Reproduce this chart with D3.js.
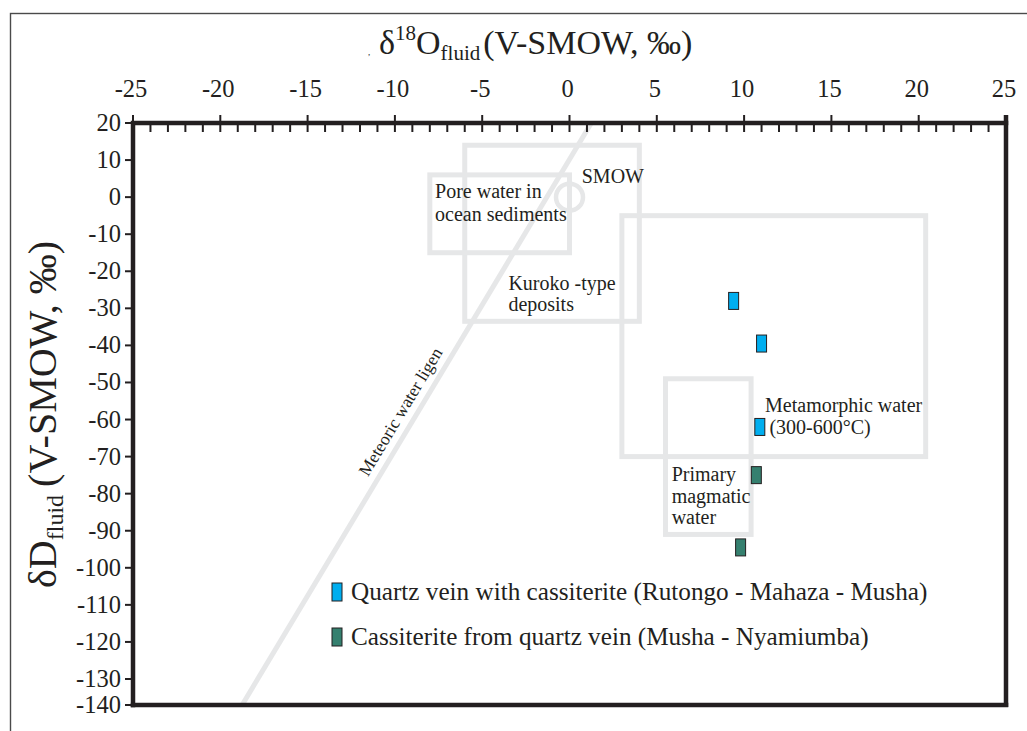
<!DOCTYPE html>
<html>
<head>
<meta charset="utf-8">
<script src="https://cdn.jsdelivr.net/npm/d3@7"></script>
<style>
  html, body { margin: 0; padding: 0; background: #fff; }
  svg { display: block; }
  text { font-family: "Liberation Serif", "Times New Roman", "DejaVu Serif", serif; fill: #231f20; }
</style>
</head>
<body>
<svg id="chart" width="1027" height="731"></svg>
<script>
// ---------------- data ----------------
const xTickValues = [-25, -20, -15, -10, -5, 0, 5, 10, 15, 20, 25];
const xTickLabels = ["-25", "-20", "-15", "-10", "-5", "0", "5", "10", "15", "20", "25"];
const yTickValues = [20, 10, 0, -10, -20, -30, -40, -50, -60, -70, -80, -90, -100, -110, -120, -130, -140];
const yTickLabels = ["20", "10", "0", "-10", "-20", "-30", "-40", "-50", "-60", "-70", "-80", "-90", "-100", "-110", "-120", "-130", "-140"];

// Quartz vein with cassiterite (Rutongo - Mahaza - Musha)
const quartzO = [9.4, 11.0, 10.9];
const quartzD = [-28, -39.5, -62];
// Cassiterite from quartz vein (Musha - Nyamiumba)
const cassO = [10.7, 9.8];
const cassD = [-75, -94.5];

const seriesNames = [
  "Quartz vein with cassiterite (Rutongo - Mahaza - Musha)",
  "Cassiterite from quartz vein (Musha - Nyamiumba)"
];
const seriesColors = ["#00aeef", "#35806f"];

// reference fields (δ18O min, max; δD min, max)
const fieldNames = ["Kuroko", "Pore water", "Metamorphic", "Primary magmatic"];
const fieldO0 = [-6, -8, 3, 5.5];
const fieldO1 = [4, 0, 20.4, 10.4];
const fieldD0 = [-33.5, -15, -70, -91];
const fieldD1 = [14, 6, -5, -49];

// SMOW point
const smowO = 0, smowD = 0;

// Meteoric water line  δD = 8 δ18O + 10
const mwlO = [-18.75, 1.25];
const mwlD = [-140, 20];

// annotation labels (text, δ18O, δD of baseline start)
const noteText = ["Pore water in", "ocean sediments", "SMOW", "Kuroko -type", "deposits",
                  "Metamorphic water", "(300-600°C)", "Primary", "magmatic", "water"];
const noteO = [-7.7, -7.7, 0.7, -3.5, -3.5, 11.2, 11.45, 5.85, 5.85, 5.85];
const noteD = [-0.3, -6.4, 3.8, -25.1, -30.6, -57.9, -63.8, -76.6, -82.4, -88.3];

// ---------------- drawing ----------------
const svg = d3.select("#chart");
svg.append("rect").attr("width", 1027).attr("height", 731).attr("fill", "#fff");

// outer frame
svg.append("rect").attr("x", 10.5).attr("y", 13.5).attr("width", 1100).attr("height", 800)
  .attr("fill", "none").attr("stroke", "#4a4a4a").attr("stroke-width", 1.4);

const x = d3.scaleLinear().domain([-25, 25]).range([133, 1006]);
const y = d3.scaleLinear().domain([20, -130, -140]).range([123, 679, 705]);

const gray = "#e6e7e8";
const ink = "#231f20";

// fields
const fieldG = svg.append("g");
fieldG.selectAll("rect").data(fieldNames).join("rect")
  .attr("x", (d, i) => x(fieldO0[i]))
  .attr("y", (d, i) => y(fieldD1[i]))
  .attr("width", (d, i) => x(fieldO1[i]) - x(fieldO0[i]))
  .attr("height", (d, i) => y(fieldD0[i]) - y(fieldD1[i]))
  .attr("fill", "none").attr("stroke", gray).attr("stroke-width", 5);

// meteoric water line
const mwlPts = mwlO.map((o, i) => [x(o), y(mwlD[i])]);
svg.append("path").attr("d", d3.line()(mwlPts))
  .attr("stroke", gray).attr("stroke-width", 5).attr("fill", "none");

// SMOW circle
svg.append("circle").attr("cx", x(smowO)).attr("cy", y(smowD)).attr("r", 13.5)
  .attr("fill", "none").attr("stroke", gray).attr("stroke-width", 4.5);

// meteoric label
{
  const dO = -8.8; // δ18O where label centred
  const p = [x(dO), y(8 * dO + 10)];
  const dx = mwlPts[1][0] - mwlPts[0][0], dy = mwlPts[1][1] - mwlPts[0][1];
  const ang = Math.atan2(dy, dx) * 180 / Math.PI;
  const len = Math.hypot(dx, dy);
  const nx = dy / len, ny = -dx / len; // normal pointing up-left
  const off = 12;
  svg.append("text")
    .attr("transform", `translate(${p[0] + nx * off},${p[1] + ny * off}) rotate(${ang})`)
    .attr("text-anchor", "middle").attr("font-size", 17.5)
    .text("Meteoric water ligen");
}

// annotations
svg.append("g").selectAll("text").data(noteText).join("text")
  .attr("x", (d, i) => x(noteO[i])).attr("y", (d, i) => y(noteD[i]))
  .attr("font-size", 20).text(d => d);

// data markers
const mw = 10, mh = 17;
function drawSeries(O, D, color) {
  svg.append("g").selectAll("rect").data(O).join("rect")
    .attr("x", (d, i) => x(d) - mw / 2).attr("y", (d, i) => y(D[i]) - mh / 2)
    .attr("width", mw).attr("height", mh)
    .attr("fill", color).attr("stroke", ink).attr("stroke-width", 1);
}
drawSeries(quartzO, quartzD, seriesColors[0]);
drawSeries(cassO, cassD, seriesColors[1]);

// axes frame
const axG = svg.append("g").attr("stroke", ink).attr("stroke-linecap", "square");
const minor = d3.range(-25, 26, 1).filter(v => xTickValues.indexOf(v) < 0);
axG.selectAll("line.minor").data(minor).join("line").attr("class", "minor")
  .attr("x1", d => x(d)).attr("x2", d => x(d)).attr("y1", y(20)).attr("y2", y(20) + 9)
  .attr("stroke-width", 2).attr("stroke-linecap", "butt");
axG.selectAll("line.major").data(xTickValues).join("line").attr("class", "major")
  .attr("x1", d => x(d)).attr("x2", d => x(d)).attr("y1", y(20) - 8).attr("y2", y(20) + 9)
  .attr("stroke-width", 2).attr("stroke-linecap", "butt");
axG.selectAll("line.yt").data(yTickValues).join("line").attr("class", "yt")
  .attr("x1", x(-25) - 8).attr("x2", x(-25)).attr("y1", d => y(d)).attr("y2", d => y(d))
  .attr("stroke-width", 2).attr("stroke-linecap", "butt");
axG.append("path")
  .attr("d", `M${x(-25)},${y(-140)} L${x(-25)},${y(20)} L${x(25)},${y(20)}`)
  .attr("fill", "none").attr("stroke-width", 4.5);
axG.append("path")
  .attr("d", `M${x(-25)},${y(-140)} L${x(25)},${y(-140)}`)
  .attr("fill", "none").attr("stroke-width", 4.5);
axG.append("line").attr("x1", x(25)).attr("x2", x(25)).attr("y1", y(20) - 8).attr("y2", y(-140) + 2)
  .attr("stroke-width", 4.5).attr("stroke-linecap", "butt");

// tick labels
svg.append("g").selectAll("text").data(xTickValues).join("text")
  .attr("x", d => x(d) - 2).attr("y", 97).attr("text-anchor", "middle")
  .attr("font-size", 24.5).text((d, i) => xTickLabels[i]);
svg.append("g").selectAll("text").data(yTickValues).join("text")
  .attr("x", x(-25) - 12).attr("y", d => y(d) + 8).attr("text-anchor", "end")
  .attr("font-size", 24.5).text((d, i) => yTickLabels[i]);

// x title
{
  const t = svg.append("text").attr("x", 379).attr("y", 54).attr("font-size", 34);
  t.append("tspan").text("δ");
  t.append("tspan").attr("font-size", 21).attr("dy", -14).text("18");
  t.append("tspan").attr("dy", 14).text("O");
  t.append("tspan").attr("font-size", 21).attr("dy", 6).text("fluid");
  t.append("tspan").attr("dy", -6).attr("dx", 3).text("(V-SMOW, ‰)");
  svg.append("text").attr("x", 368).attr("y", 55).attr("font-size", 9).attr("fill", "#888").text(",");
}
// y title
{
  const t = svg.append("text").attr("transform", "translate(56,588) rotate(-90)").attr("font-size", 40);
  t.append("tspan").text("δD");
  t.append("tspan").attr("font-size", 24).attr("dy", 7).text("fluid");
  t.append("tspan").attr("dy", -7).attr("dx", 8).text("(V-SMOW, ‰)");
}

// legend
const legY = [592, 637];
const legG = svg.append("g");
seriesNames.forEach((name, i) => {
  legG.append("rect").attr("x", 332).attr("y", legY[i] - 9).attr("width", 10).attr("height", 18)
    .attr("fill", seriesColors[i]).attr("stroke", ink).attr("stroke-width", 1);
  legG.append("text").attr("x", 351).attr("y", legY[i] + 8).attr("font-size", 25.2).text(name);
});
</script>
</body>
</html>
